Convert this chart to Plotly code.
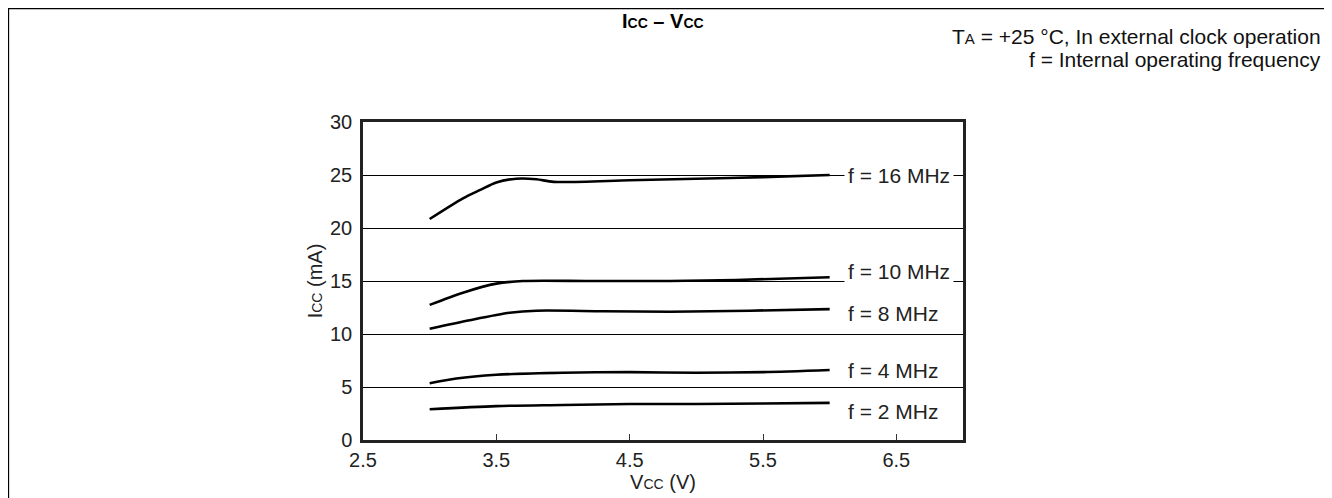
import plotly.graph_objects as go

# Icc vs Vcc curves
vcc_16 = [3.0, 3.25, 3.38, 3.5, 3.65, 3.8, 3.93, 4.5, 5.0, 5.5, 6.0]
icc_16 = [20.85, 22.8, 23.6, 24.3, 24.65, 24.6, 24.35, 24.5, 24.65, 24.8, 25.0]
vcc_10 = [3.0, 3.25, 3.5, 3.7, 4.2, 4.8, 5.3, 6.0]
icc_10 = [12.75, 13.9, 14.75, 15.0, 15.0, 15.0, 15.1, 15.35]
vcc_8 = [3.0, 3.3, 3.6, 3.8, 4.3, 4.8, 5.4, 6.0]
icc_8 = [10.5, 11.3, 12.0, 12.2, 12.15, 12.1, 12.2, 12.35]
vcc_4 = [3.0, 3.2, 3.5, 4.0, 4.5, 5.0, 5.5, 6.0]
icc_4 = [5.35, 5.8, 6.15, 6.35, 6.4, 6.35, 6.4, 6.6]
vcc_2 = [3.0, 3.5, 4.0, 4.5, 5.0, 5.5, 6.0]
icc_2 = [2.9, 3.2, 3.3, 3.4, 3.4, 3.45, 3.5]

labels = ["f = 16 MHz", "f = 10 MHz", "f = 8 MHz", "f = 4 MHz", "f = 2 MHz"]
label_y = [25.0, 15.9, 11.9, 6.6, 2.7]
x_ticks = [2.5, 3.5, 4.5, 5.5, 6.5]

FONT = "Liberation Sans, Arial, sans-serif"

fig = go.Figure()
for xs, ys in [(vcc_16, icc_16), (vcc_10, icc_10), (vcc_8, icc_8), (vcc_4, icc_4), (vcc_2, icc_2)]:
    fig.add_trace(go.Scatter(x=xs, y=ys, mode="lines", line=dict(color="black", width=2.6, shape="spline", smoothing=0.8), showlegend=False, hoverinfo="skip"))

for txt, yy in zip(labels, label_y):
    fig.add_annotation(x=6.11, y=yy, xref="x", yref="y", text=txt, showarrow=False, xanchor="left", yanchor="middle",
                       bgcolor="white", borderpad=3, font=dict(size=21, color="#222", family=FONT))

sm = "font-size:15px"
fig.add_annotation(x=0.5, y=1.358, xref="paper", yref="paper", showarrow=False, yanchor="top",
                   text=f"<b>I<span style='font-size:14px'>CC</span> – V<span style='font-size:14px'>CC</span></b>", font=dict(size=20, color="black", family=FONT))
fig.add_annotation(x=1.6, y=1.2704, xref="paper", yref="paper", showarrow=False, xanchor="right", yanchor="middle",
                   text=f"T<span style='{sm}'>A</span> = +25 °C, In external clock operation", font=dict(size=21, color="#111", family=FONT))
fig.add_annotation(x=1.6, y=1.195, xref="paper", yref="paper", showarrow=False, xanchor="right", yanchor="middle",
                   text="f = Internal operating frequency", font=dict(size=21, color="#111", family=FONT))

# outer frame
fig.add_shape(type="rect", xref="paper", yref="paper", x0=-0.591, x1=1.6117, y0=-0.4, y1=1.357,
              line=dict(color="black", width=1.5), layer="below")

sm2 = "font-size:14px"
fig.update_xaxes(range=[2.5, 7.0], tickvals=x_ticks, ticktext=[f"{v:.1f}" for v in x_ticks], ticks="inside", ticklen=6,
                 tickcolor="#333", tickwidth=1, showline=True, mirror=True, linecolor="#222", linewidth=2.5, showgrid=False,
                 zeroline=False, tickfont=dict(size=20, color="#222", family=FONT),
                 title=dict(text=f"V<span style='{sm2}'>CC</span> (V)", font=dict(size=20, color="#222", family=FONT), standoff=0))
fig.update_yaxes(range=[0, 30], dtick=5, ticks="", showline=True, mirror=True, linecolor="#222", linewidth=2.5,
                 showgrid=True, gridcolor="black", gridwidth=1, zeroline=False, ticklabelstandoff=4,
                 tickfont=dict(size=20, color="#222", family=FONT),
                 title=dict(text=f"I<span style='{sm2}'>CC</span> (mA)", font=dict(size=20, color="#222", family=FONT), standoff=3))
fig.update_layout(width=1324, height=490, margin=dict(l=355, r=369, t=114, b=58), plot_bgcolor="white",
                  paper_bgcolor="white", font=dict(family=FONT))
fig.write_html("out.html")
